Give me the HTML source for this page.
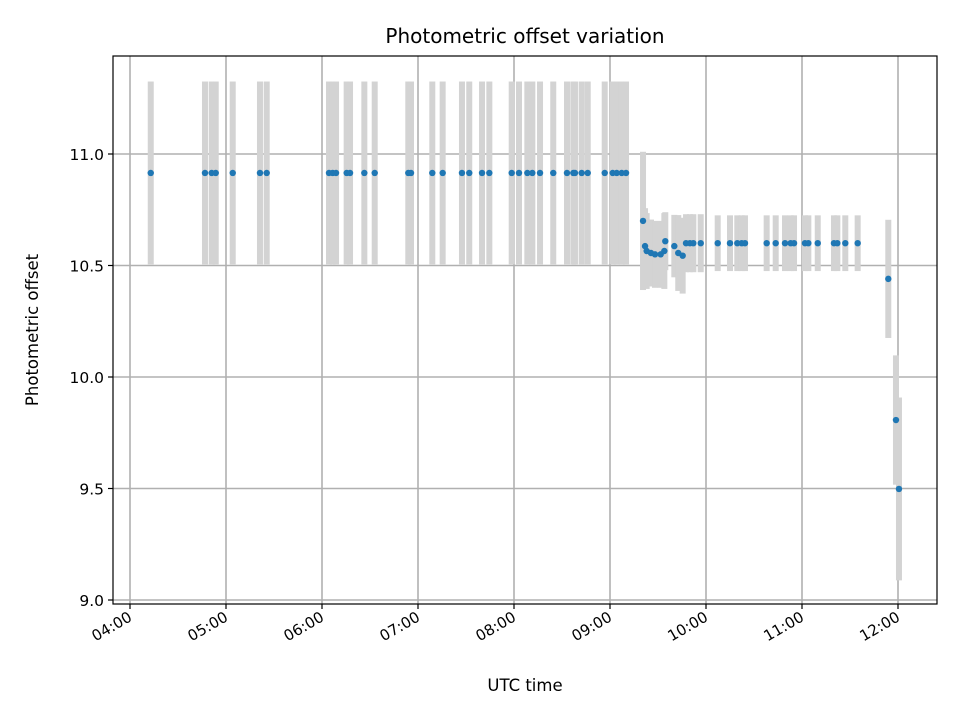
<!DOCTYPE html>
<html><head><meta charset="utf-8"><style>
html,body{margin:0;padding:0;background:#fff;}
svg{display:block;font-family:"DejaVu Sans","Liberation Sans",sans-serif;}
</style></head><body>
<svg id="chart" width="960" height="720" viewBox="0 0 960 720" xmlns="http://www.w3.org/2000/svg">
<rect x="0" y="0" width="960" height="720" fill="#fff"/>
<g id="grid"></g>
<g id="errs"></g>
<g id="pts"></g>
<g id="axes"></g>
<text x="525" y="43" font-size="20" text-anchor="middle" fill="#000">Photometric offset variation</text>
<text x="525" y="691" font-size="16.5" text-anchor="middle" fill="#000">UTC time</text>
<text x="38" y="330" font-size="16.5" text-anchor="middle" fill="#000" transform="rotate(-90 38 330)">Photometric offset</text>
</svg>
<script>
const times=[4.216,4.781,4.851,4.893,5.070,5.354,5.424,6.073,6.111,6.146,6.257,6.292,6.441,6.549,6.899,6.927,7.149,7.257,7.458,7.534,7.667,7.743,7.976,8.052,8.139,8.191,8.271,8.409,8.552,8.618,8.635,8.705,8.768,8.945,9.028,9.070,9.122,9.167,
9.344,9.365,9.382,9.427,9.469,9.528,9.566,9.576,9.670,9.711,9.757,9.792,9.833,9.868,9.945,10.122,10.25,10.326,10.372,10.406,10.632,10.726,10.823,10.882,10.917,11.031,11.066,11.164,11.333,11.368,11.451,11.58,11.899,11.979,12.01];
const offsets=[10.915,10.915,10.915,10.915,10.915,10.915,10.915,10.915,10.915,10.915,10.915,10.915,10.915,10.915,10.915,10.915,10.915,10.915,10.915,10.915,10.915,10.915,10.915,10.915,10.915,10.915,10.915,10.915,10.915,10.915,10.915,10.915,10.915,10.915,10.915,10.915,10.915,10.915,
10.70,10.587,10.565,10.556,10.55,10.55,10.565,10.609,10.587,10.556,10.544,10.60,10.60,10.60,10.60,10.60,10.60,10.60,10.60,10.60,10.60,10.60,10.60,10.60,10.60,10.60,10.60,10.60,10.60,10.60,10.60,10.60,10.44,9.807,9.498];
const errors=[0.41,0.41,0.41,0.41,0.41,0.41,0.41,0.41,0.41,0.41,0.41,0.41,0.41,0.41,0.41,0.41,0.41,0.41,0.41,0.41,0.41,0.41,0.41,0.41,0.41,0.41,0.41,0.41,0.41,0.41,0.41,0.41,0.41,0.41,0.41,0.41,0.41,0.41,
0.31,0.17,0.17,0.15,0.15,0.15,0.17,0.13,0.14,0.17,0.17,0.13,0.13,0.13,0.13,0.125,0.125,0.125,0.125,0.125,0.125,0.125,0.125,0.125,0.125,0.125,0.125,0.125,0.125,0.125,0.125,0.125,0.265,0.29,0.41];
const xTicks=[4,5,6,7,8,9,10,11,12];
const xTickLabels=["04:00","05:00","06:00","07:00","08:00","09:00","10:00","11:00","12:00"];
const yTicks=[9.0,9.5,10.0,10.5,11.0];
const yTickLabels=["9.0","9.5","10.0","10.5","11.0"];
const L=113,R=937,T=56,B=604;
const xs=h=>130+(h-4)*96;
const ys=v=>154+(11-v)*223;
const NS="http://www.w3.org/2000/svg";
function mk(parent,tag,attrs){const e=document.createElementNS(NS,tag);for(const k in attrs)e.setAttribute(k,attrs[k]);parent.appendChild(e);return e;}
const grid=document.getElementById('grid'),errs=document.getElementById('errs'),pts=document.getElementById('pts'),axes=document.getElementById('axes');
xTicks.forEach((t,i)=>{const x=xs(t);
 const g=mk(grid,'line',{x1:x,x2:x,y1:T,y2:B,stroke:'#b0b0b0','stroke-width':1.6});
 
 
 const tk=mk(axes,'line',{x1:x,x2:x,y1:B,y2:B+5,stroke:'#000','stroke-width':1.2});
 
 
 const lx=x+3,ly=B+16;
 const lb=mk(axes,'text',{x:lx,y:ly,'font-size':15,'text-anchor':'end',transform:`rotate(-30 ${lx} ${ly})`});
 lb.textContent=xTickLabels[i];
 
 
});
yTicks.forEach((t,i)=>{const y=ys(t);
 const g=mk(grid,'line',{x1:L,x2:R,y1:y,y2:y,stroke:'#b0b0b0','stroke-width':1.6});
 
 
 const tk=mk(axes,'line',{x1:L-5,x2:L,y1:y,y2:y,stroke:'#000','stroke-width':1.2});
 
 
 const lb=mk(axes,'text',{x:L-9,y:y+6,'font-size':15.5,'text-anchor':'end'});
 lb.textContent=yTickLabels[i];
 
 
});
times.forEach((t,i)=>{const x=xs(t);
 const e=mk(errs,'rect',{x:x-3,width:6,y:ys(offsets[i]+errors[i]),height:ys(offsets[i]-errors[i])-ys(offsets[i]+errors[i]),fill:'#d3d3d3'});
 
 
 const c=mk(pts,'circle',{cx:x,cy:ys(offsets[i]),r:3.2,fill:'#1f77b4'});
 
 
});
const fr=mk(axes,'rect',{x:L,y:T,width:R-L,height:B-T,fill:'none',stroke:'#000','stroke-width':1.2});


</script>
</body></html>
